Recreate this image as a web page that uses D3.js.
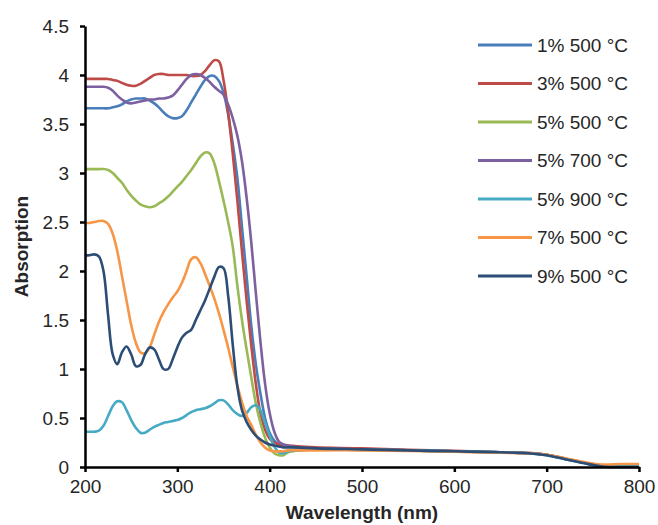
<!DOCTYPE html>
<html>
<head>
<meta charset="utf-8">
<script src="https://cdn.jsdelivr.net/npm/d3@7"></script>
<style>
  body { margin: 0; background: #fff; }
  text { font-family: "Liberation Sans", Arial, sans-serif; fill: #262626; }
</style>
</head>
<body>
<div id="chart"></div>
<script>
"use strict";

// wavelengths (nm), shared by every series
const wavelengths = [
  200, 205, 210, 215, 220, 225, 230, 235, 240, 245, 250, 255, 260, 265, 270,
  275, 280, 285, 290, 295, 300, 305, 310, 315, 320, 325, 330, 335, 340, 345,
  350, 355, 360, 365, 370, 375, 380, 385, 390, 395, 400, 405, 410, 415, 420,
  430, 450, 500, 550, 600, 650, 680, 700, 720, 740, 760, 780, 800
];

const blue1 = [
  3.66, 3.66, 3.66, 3.66, 3.66, 3.66, 3.67, 3.68, 3.70, 3.73, 3.75, 3.76, 3.76, 3.76, 3.74,
  3.71, 3.67, 3.62, 3.58, 3.56, 3.56, 3.58, 3.64, 3.72, 3.80, 3.88, 3.95, 3.99, 3.99, 3.94,
  3.82, 3.60, 3.30, 2.95, 2.45, 1.95, 1.45, 1.05, 0.75, 0.50, 0.35, 0.27, 0.23, 0.22, 0.21,
  0.20, 0.19, 0.18, 0.17, 0.16, 0.15, 0.14, 0.125, 0.085, 0.045, 0.01, 0.01, 0.01
];
const red3 = [
  3.96, 3.96, 3.96, 3.96, 3.96, 3.96, 3.95, 3.94, 3.92, 3.90, 3.89, 3.89, 3.91, 3.94, 3.97,
  4.00, 4.01, 4.01, 4.00, 4.00, 4.00, 4.00, 4.00, 3.99, 3.99, 4.00, 4.04, 4.10, 4.15, 4.14,
  3.95, 3.62, 3.20, 2.72, 2.20, 1.70, 1.25, 0.85, 0.55, 0.38, 0.29, 0.25, 0.23, 0.22, 0.22,
  0.21, 0.20, 0.19, 0.175, 0.165, 0.15, 0.145, 0.125, 0.085, 0.045, 0.01, 0.01, 0.01
];
const green5 = [
  3.04, 3.04, 3.04, 3.04, 3.04, 3.03, 3.00, 2.95, 2.90, 2.83, 2.77, 2.72, 2.68, 2.66, 2.65,
  2.66, 2.69, 2.72, 2.76, 2.81, 2.86, 2.91, 2.97, 3.03, 3.10, 3.17, 3.21, 3.20, 3.10, 2.92,
  2.72, 2.50, 2.25, 1.85, 1.50, 1.20, 0.92, 0.65, 0.45, 0.30, 0.20, 0.14, 0.12, 0.12, 0.15,
  0.17, 0.18, 0.18, 0.17, 0.16, 0.15, 0.14, 0.125, 0.085, 0.045, 0.015, 0.02, 0.02
];
const purple5 = [
  3.88, 3.88, 3.88, 3.88, 3.88, 3.87, 3.84, 3.79, 3.75, 3.72, 3.71, 3.72, 3.73, 3.74, 3.75,
  3.75, 3.76, 3.76, 3.77, 3.79, 3.84, 3.90, 3.96, 4.00, 4.01, 4.00, 3.97, 3.93, 3.88, 3.84,
  3.80, 3.70, 3.56, 3.38, 3.12, 2.75, 2.30, 1.78, 1.28, 0.85, 0.55, 0.36, 0.26, 0.23, 0.22,
  0.20, 0.19, 0.18, 0.17, 0.16, 0.15, 0.14, 0.125, 0.085, 0.045, 0.01, 0.01, 0.01
];
const cyan5 = [
  0.36, 0.36, 0.36, 0.37, 0.42, 0.52, 0.62, 0.67, 0.66, 0.58, 0.48, 0.40, 0.35, 0.35, 0.38,
  0.41, 0.43, 0.45, 0.46, 0.47, 0.48, 0.50, 0.53, 0.56, 0.58, 0.59, 0.60, 0.62, 0.65, 0.68,
  0.68, 0.64, 0.58, 0.54, 0.52, 0.55, 0.61, 0.63, 0.58, 0.45, 0.32, 0.21, 0.15, 0.14, 0.16,
  0.17, 0.18, 0.175, 0.17, 0.16, 0.15, 0.14, 0.12, 0.08, 0.04, 0.01, 0.01, 0.01
];
const orange7 = [
  2.49, 2.49, 2.50, 2.51, 2.51, 2.48, 2.38, 2.20, 1.95, 1.70, 1.45, 1.27, 1.17, 1.16, 1.22,
  1.35, 1.48, 1.58, 1.66, 1.73, 1.79, 1.88, 2.00, 2.12, 2.14, 2.08, 1.97, 1.85, 1.72, 1.57,
  1.40, 1.22, 1.02, 0.83, 0.66, 0.52, 0.43, 0.33, 0.25, 0.20, 0.17, 0.16, 0.16, 0.16, 0.17,
  0.17, 0.17, 0.17, 0.165, 0.155, 0.145, 0.14, 0.125, 0.09, 0.05, 0.025, 0.03, 0.03
];
const navy9 = [
  2.16, 2.16, 2.17, 2.15, 2.00, 1.55, 1.15, 1.05, 1.17, 1.23, 1.15, 1.03, 1.04, 1.15, 1.22,
  1.20, 1.10, 1.00, 1.00, 1.10, 1.22, 1.32, 1.37, 1.40, 1.50, 1.60, 1.70, 1.82, 1.94, 2.04,
  2.03, 1.75, 1.25, 0.82, 0.58, 0.46, 0.38, 0.32, 0.28, 0.25, 0.23, 0.22, 0.21, 0.20, 0.20,
  0.20, 0.19, 0.18, 0.17, 0.16, 0.15, 0.14, 0.12, 0.08, 0.04, 0.005, 0.0, 0.0
];

const seriesNames = ["1% 500 °C", "3% 500 °C", "5% 500 °C", "5% 700 °C", "5% 900 °C", "7% 500 °C", "9% 500 °C"];
const seriesValues = [blue1, red3, green5, purple5, cyan5, orange7, navy9];
const seriesColors = ["#4A7EBB", "#BE4B48", "#98B954", "#7D60A0", "#46AAC5", "#F79646", "#2C4D75"];

const xTicks = [200, 300, 400, 500, 600, 700, 800];
const yTicks = [0, 0.5, 1, 1.5, 2, 2.5, 3, 3.5, 4, 4.5];

const cont = {
    width: 658,
    height: 525,
    left: 85,
    right: 639,
    top: 26,
    bottom: 467
};

let svg = d3.select("#chart")
    .append("svg")
    .attr("width", cont.width)
    .attr("height", cont.height);

let xScale = d3.scaleLinear()
    .domain([200, 800])
    .range([cont.left, cont.right]);

let yScale = d3.scaleLinear()
    .domain([0, 4.5])
    .range([cont.bottom, cont.top]);

// lines first, axes drawn on top
let line = d3.line()
    .x((d) => xScale(d[0]))
    .y((d) => yScale(d[1]))
    .curve(d3.curveCatmullRom.alpha(0.5));

seriesValues.forEach((vals, i) => {
    let pts = wavelengths.map((w, j) => [w, vals[j]]);
    svg.append("path")
        .datum(pts)
        .attr("fill", "none")
        .attr("stroke", seriesColors[i])
        .attr("stroke-width", 2.6)
        .attr("stroke-linejoin", "round")
        .attr("d", line);
});

let xAxis = d3.axisBottom(xScale)
    .tickValues(xTicks)
    .tickSizeInner(5)
    .tickSizeOuter(0)
    .tickPadding(8)
    .tickFormat(d3.format("d"));

let gx = svg.append("g")
    .attr("transform", "translate(0," + cont.bottom + ")")
    .call(xAxis);

let yAxis = d3.axisLeft(yScale)
    .tickValues(yTicks)
    .tickSizeInner(5)
    .tickSizeOuter(0)
    .tickPadding(11)
    .tickFormat((d) => String(d));

let gy = svg.append("g")
    .attr("transform", "translate(" + cont.left + ",0)")
    .call(yAxis);

[gx, gy].forEach((g) => {
    g.select(".domain").attr("stroke", "#000").attr("stroke-width", 2.5);
    g.selectAll(".tick line").attr("stroke", "#000").attr("stroke-width", 2.5);
    g.selectAll(".tick text")
        .attr("fill", "#262626")
        .style("font-family", "'Liberation Sans', Arial, sans-serif")
        .style("font-size", "19px");
});

svg.append("text")
    .attr("transform", "translate(28," + ((cont.top + cont.bottom) / 2) + ") rotate(-90)")
    .attr("text-anchor", "middle")
    .style("font-size", "19px")
    .style("font-weight", "bold")
    .text("Absorption");

svg.append("text")
    .attr("x", (cont.left + cont.right) / 2)
    .attr("y", 519)
    .attr("text-anchor", "middle")
    .style("font-size", "19px")
    .style("font-weight", "bold")
    .text("Wavelength (nm)");

// legend
let legend = svg.append("g").attr("transform", "translate(478,45)");
seriesNames.forEach((name, i) => {
    let row = legend.append("g").attr("transform", "translate(0," + (i * 38.5) + ")");
    row.append("line")
        .attr("x1", 0).attr("x2", 54)
        .attr("y1", 0).attr("y2", 0)
        .attr("stroke", seriesColors[i])
        .attr("stroke-width", 3);
    row.append("text")
        .attr("x", 59)
        .attr("y", 0)
        .attr("dy", "0.35em")
        .style("font-size", "19px")
        .text(name);
});
</script>
</body>
</html>
